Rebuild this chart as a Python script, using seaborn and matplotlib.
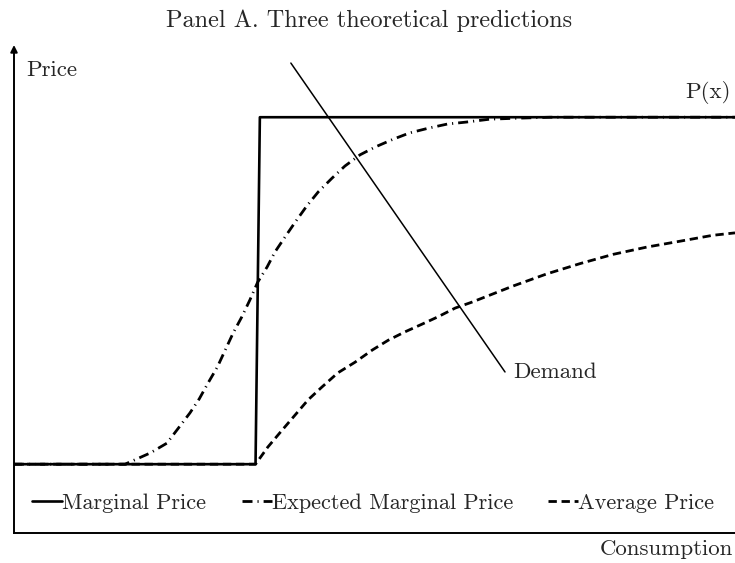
import matplotlib
matplotlib.use('Agg')
import matplotlib.pyplot as plt
import seaborn as sns

# values (consumption and price on a 0-100 scale)
mp_x = [0, 33.5, 34.1, 100]
mp_y = [14.1, 14.1, 85.2, 85.2]

emp_x = [0, 15.4, 18.9, 21.2, 22.7, 24.4, 25.7, 26.9, 28.2, 29.3, 30.4, 31.6, 32.7, 33.8,
         35.1, 36.2, 37.7, 39.0, 40.6, 42.2, 44.1, 45.9, 48.0, 50.1, 52.6, 54.9, 57.6,
         60.1, 62.7, 66.0, 69.8, 74.3, 100]
emp_y = [14.1, 14.1, 16.4, 18.4, 21.3, 24.6, 27.5, 30.7, 34.0, 37.5, 41.0, 44.3, 47.7, 51.4,
         54.5, 57.6, 60.9, 63.7, 67.0, 69.9, 72.7, 75.2, 77.5, 79.1, 80.7, 82.0, 83.0,
         83.8, 84.2, 84.8, 85.0, 85.2, 85.2]

ap_x = [0, 33.5, 35.2, 37.2, 39.0, 40.8, 42.7, 44.9, 47.3, 49.7, 51.9, 54.2, 56.6, 58.8,
        61.2, 63.5, 69.2, 73.9, 78.5, 83.1, 87.8, 92.4, 96.9, 100]
ap_y = [14.1, 14.1, 17.6, 21.1, 24.2, 27.3, 29.9, 32.8, 35.0, 37.5, 39.5, 41.2, 42.8, 44.3,
        46.1, 47.3, 50.6, 53.1, 55.2, 57.1, 58.6, 59.8, 61.0, 61.5]

demand_x = [38.4, 68.1]
demand_y = [96.3, 33.0]

sns.set_theme(style='white')
plt.rcParams['font.family'] = 'serif'
plt.rcParams['font.serif'] = ['cmr10', 'DejaVu Serif']
plt.rcParams['axes.formatter.use_mathtext'] = True

fig = plt.figure(figsize=(7.35, 5.63), dpi=100)
ax = fig.add_axes([14 / 735, 1 - 533 / 563, 1 - 14 / 735, (533 - 45) / 563])

sns.lineplot(x=mp_x, y=mp_y, ax=ax, color='black', lw=1.9, sort=False,
             label='Marginal Price')
sns.lineplot(x=emp_x, y=emp_y, ax=ax, color='black', lw=2.0, sort=False,
             linestyle=(0, (3.6, 1.8, 0.4, 1.8)), label='Expected Marginal Price')
sns.lineplot(x=ap_x, y=ap_y, ax=ax, color='black', lw=2.0, sort=False,
             linestyle=(0, (3, 1.7)), label='Average Price')
sns.lineplot(x=demand_x, y=demand_y, ax=ax, color='black', lw=1.1, sort=False)

ax.set_xlim(0, 100)
ax.set_ylim(0, 100)
ax.set_xticks([])
ax.set_yticks([])
for s in ['top', 'right', 'left']:
    ax.spines[s].set_visible(False)
ax.spines['bottom'].set_color('black')
ax.spines['bottom'].set_linewidth(1.4)
ax.annotate('', xy=(0, 1.0), xytext=(0, 0), xycoords='axes fraction',
            arrowprops=dict(arrowstyle='-|>', lw=1.4, color='black',
                            mutation_scale=10, shrinkA=0, shrinkB=0))

ax.text(1.7, 94.9, 'Price', fontsize=16.5, va='center', ha='left')
ax.text(99.4, 90.2, 'P(x)', fontsize=16.5, va='center', ha='right')
ax.text(69.2, 33.0, 'Demand', fontsize=16.5, va='center', ha='left')
ax.text(99.7, -3.3, 'Consumption', fontsize=16.5, va='center', ha='right', clip_on=False)
fig.text(0.502, 1 - 21 / 563, 'Panel A. Three theoretical predictions',
         fontsize=17.5, ha='center', va='center')

ax.legend(loc='center left', bbox_to_anchor=(0.025, 0.0615), ncol=3, frameon=False,
          fontsize=16, handlelength=1.35, handletextpad=0.0, columnspacing=1.6,
          borderpad=0, borderaxespad=0)

fig.savefig('out.png', dpi=100)
